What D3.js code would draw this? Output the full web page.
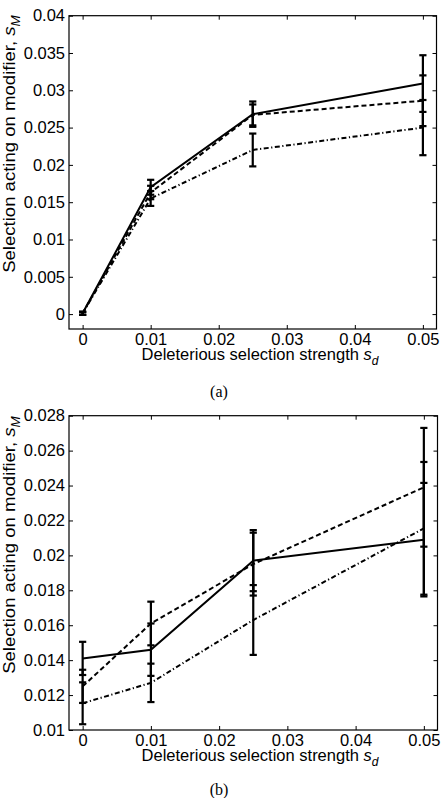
<!DOCTYPE html>
<html>
<head>
<meta charset="utf-8">
<script src="https://cdn.jsdelivr.net/npm/d3@7"></script>
<style>
  body { margin: 0; background: #fff; }
  svg { display: block; font-family: "Liberation Sans", Arial, Helvetica, sans-serif; }
</style>
</head>
<body>
<div id="chart"></div>
<script>
// shared x values (deleterious selection strength)
const sdValues = [0, 0.01, 0.025, 0.05];
const xTicks = [0, 0.01, 0.02, 0.03, 0.04, 0.05];

// panel (a)
const yTicksA = [0, 0.005, 0.01, 0.015, 0.02, 0.025, 0.03, 0.035, 0.04];
const solidA = [0.0001, 0.0170, 0.0268, 0.0309];
const solidErrA = [0.0002, 0.0010, 0.0017, 0.0038];
const dashedA = [0.0001, 0.0163, 0.0267, 0.0286];
const dashedErrA = [0.0002, 0.0009, 0.0014, 0.0034];
const dashDotA = [0.0001, 0.0155, 0.0220, 0.0250];
const dashDotErrA = [0.0002, 0.0010, 0.0022, 0.0037];

// panel (b)
const yTicksB = [0.01, 0.012, 0.014, 0.016, 0.018, 0.02, 0.022, 0.024, 0.026, 0.028];
const solidB = [0.0141, 0.0146, 0.0197, 0.0209];
const solidErrB = [0.00095, 0.0015, 0.00175, 0.00325];
const dashedB = [0.0125, 0.0161, 0.0195, 0.0239];
const dashedErrB = [0.00095, 0.00125, 0.0018, 0.0034];
const dashDotB = [0.01153, 0.0127, 0.0163, 0.02155];
const dashDotErrB = [0.0012, 0.0011, 0.0020, 0.0038];

const DASH = { solid: null, dashed: "5,3", dashdot: "5,2.5,1.2,2.5" };

const svg = d3.select("#chart").append("svg")
    .attr("width", 446)
    .attr("height", 798);

const panels = [
    {
        caption: "(a)", top: 15.7, bottom: 329, left: 69, right: 436.5,
        xDomain: [-0.002, 0.052], yDomain: [-0.002, 0.04], yTicks: yTicksA,
        yLabelY: 144, xTitleY: 359.5, captionY: 397,
        series: [
            { vals: solidA, errs: solidErrA, style: "solid" },
            { vals: dashedA, errs: dashedErrA, style: "dashed" },
            { vals: dashDotA, errs: dashDotErrA, style: "dashdot" }
        ]
    },
    {
        caption: "(b)", top: 415.7, bottom: 730, left: 69, right: 437.5,
        xDomain: [-0.002, 0.052], yDomain: [0.01, 0.028], yTicks: yTicksB,
        yLabelY: 545, xTitleY: 760.5, captionY: 795,
        series: [
            { vals: solidB, errs: solidErrB, style: "solid" },
            { vals: dashedB, errs: dashedErrB, style: "dashed" },
            { vals: dashDotB, errs: dashDotErrB, style: "dashdot" }
        ]
    }
];

const fmt = d => String(d);

panels.forEach(p => {
    const x = d3.scaleLinear().domain(p.xDomain).range([p.left, p.right]);
    const y = d3.scaleLinear().domain(p.yDomain).range([p.bottom, p.top]);
    const g = svg.append("g");

    // axes (MATLAB style: inward ticks on all four sides)
    g.append("g")
        .attr("transform", `translate(0,${p.bottom})`)
        .call(d3.axisBottom(x).tickValues(xTicks).tickFormat(fmt).tickSizeInner(-4).tickSizeOuter(0).tickPadding(4));
    g.append("g")
        .attr("transform", `translate(0,${p.top})`)
        .call(d3.axisTop(x).tickValues(xTicks).tickFormat("").tickSizeInner(-4).tickSizeOuter(0));
    g.append("g")
        .attr("transform", `translate(${p.left},0)`)
        .call(d3.axisLeft(y).tickValues(p.yTicks).tickFormat(fmt).tickSizeInner(-4).tickSizeOuter(0).tickPadding(4));
    g.append("g")
        .attr("transform", `translate(${p.right},0)`)
        .call(d3.axisRight(y).tickValues(p.yTicks).tickFormat("").tickSizeInner(-4).tickSizeOuter(0));

    g.selectAll(".domain").remove();
    g.selectAll(".tick line").attr("stroke", "#000").attr("stroke-width", 1);
    g.selectAll(".tick text")
        .attr("fill", "#000")
        .style("font-size", "16.5px")
        .style("font-family", "'Liberation Sans', Arial, sans-serif");

    g.append("rect")
        .attr("x", p.left).attr("y", p.top)
        .attr("width", p.right - p.left).attr("height", p.bottom - p.top)
        .attr("fill", "none").attr("stroke", "#000").attr("stroke-width", 1.2);

    // error bars
    p.series.forEach(s => {
        const eb = g.append("g").attr("stroke", "#000").attr("stroke-width", 2.2);
        sdValues.forEach((sd, i) => {
            const cx = x(sd);
            const lo = y(s.vals[i] - s.errs[i]);
            const hi = y(s.vals[i] + s.errs[i]);
            eb.append("line").attr("x1", cx).attr("x2", cx).attr("y1", lo).attr("y2", hi);
            eb.append("line").attr("x1", cx - 3.6).attr("x2", cx + 3.6).attr("y1", lo).attr("y2", lo);
            eb.append("line").attr("x1", cx - 3.6).attr("x2", cx + 3.6).attr("y1", hi).attr("y2", hi);
        });
    });

    // series lines
    const line = d3.line()
        .x((d, i) => x(sdValues[i]))
        .y(d => y(d));
    p.series.forEach(s => {
        g.append("path")
            .attr("d", line(s.vals))
            .attr("fill", "none")
            .attr("stroke", "#000")
            .attr("stroke-width", 2)
            .attr("stroke-dasharray", DASH[s.style]);
    });

    // x axis title
    const xt = g.append("text")
        .attr("x", 260).attr("y", p.xTitleY)
        .attr("text-anchor", "middle")
        .style("font-size", "16.5px");
    xt.append("tspan").text("Deleterious selection strength ");
    xt.append("tspan").attr("font-style", "italic").text("s");
    xt.append("tspan").attr("dy", 5).style("font-size", "12px").attr("font-style", "italic").text("d");

    // y axis title, stretched along its length to match the reference
    const yt = g.append("text")
        .attr("text-anchor", "middle")
        .style("font-size", "16.5px");
    yt.append("tspan").text("Selection acting on modifier, ");
    yt.append("tspan").attr("font-style", "italic").text("s");
    yt.append("tspan").attr("dy", 5).style("font-size", "12px").attr("font-style", "italic").text("M");
    const len = yt.node().getComputedTextLength();
    yt.attr("transform", `translate(15,${p.yLabelY}) rotate(-90) scale(${258 / len},1)`);

    // caption
    g.append("text")
        .attr("x", 219).attr("y", p.captionY)
        .attr("text-anchor", "middle")
        .style("font-family", "'Liberation Serif', 'DejaVu Serif', serif")
        .style("font-size", "16px")
        .text(p.caption);
});
</script>
</body>
</html>
